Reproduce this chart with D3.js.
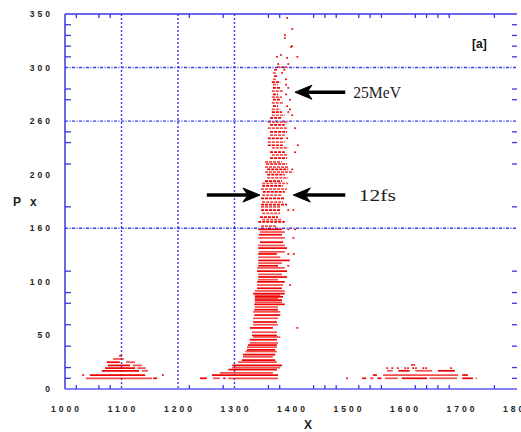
<!DOCTYPE html>
<html>
<head>
<meta charset="utf-8">
<script src="https://cdn.jsdelivr.net/npm/d3@7"></script>
<style>
  body { margin: 0; background: #fff; }
  svg { display: block; }
</style>
</head>
<body>
<svg id="chart" width="521" height="432"></svg>
<script>
// ---- data ----
// tick labels (text as printed) and the values they sit at
const xLabelValues = [1000, 1100, 1200, 1300, 1400, 1500, 1600, 1700, 1800];
const xLabels = ["1000", "1100", "1200", "1300", "1400", "1500", "1600", "1700", "1800"];
const yLabelValues = [0, 50, 100, 150, 200, 250, 300, 350];
const yLabels = ["0", "50", "100", "160", "200", "260", "300", "350"];
// small inward ticks
const xMinorTicks = [1020, 1060, 1080, 1220, 1280, 1360, 1380, 1440, 1460, 1480, 1520, 1540, 1560, 1620, 1640, 1660, 1680, 1760];
const yMinorTicks = [10, 20, 40, 60, 80, 90, 110, 170, 210, 230, 240, 270, 280, 310, 320, 330, 340];
// dotted grid lines
const xGrid = [1100, 1200, 1300];
const yGrid = [150, 250, 300];

// particle rows: [Px, x start, x end]
const spikeRows = [
  [10,1239,1251],[10,1262,1274],[10,1280,1284],[10,1289,1377],
  [13,1260,1377],[15,1274,1368],[18,1289,1375],[20,1296,1381],[22,1296,1384],[25,1306,1375],
  [27,1313,1372],[30,1315,1368],[32,1315,1372],[35,1319,1375],[36.5,1322,1372],[39,1322,1375],
  [41,1324,1375],[43,1327,1377],[46,1327,1375],[48.5,1333,1381],[50,1331,1375],[53,1331,1375],
  [57,1327,1368],[60,1333,1377],[62.5,1333,1375],[66,1333,1377],[69,1335,1381],[72,1333,1381],
  [74,1335,1377],[76.5,1336,1377],[79,1335,1389],[81,1336,1384],[83,1336,1384],[84.5,1336,1377],
  [86,1336,1386],[87.5,1336,1381],[89,1333,1389],[91.5,1336,1389],[94,1340,1384],[97,1340,1386],
  [100,1340,1389],[102,1342,1377],[104.5,1342,1393],[107,1342,1384],[110,1340,1393],[113,1340,1389],
  [115,1342,1377],[117.5,1342,1384],[120,1342,1398],[123,1342,1381],[126,1342,1375],[128,1343,1389],
  [131.5,1342,1393],[134,1342,1389],[137,1345,1386],[141,1342,1389],[144,1343,1384],[146.5,1345,1389],
  [149,1342,1384],[152,1347,1375],[156,1342,1389],[158,1349,1384],[160.5,1345,1377],[164,1349,1381],
  [167,1347,1382],[170,1347,1382],[172,1347,1393],[174.5,1349,1386],[178,1347,1389],[181,1349,1384],
  [184,1350,1389],[186.5,1347,1393],[189.5,1349,1386],[192,1349,1395],[194,1354,1384],[197,1358,1395],
  [200,1358,1389],[202.5,1354,1404],[205,1358,1395],[207,1354,1395],[210,1356,1393],[212,1354,1384],
  [215.5,1363,1393],[218.5,1366,1395],[221,1363,1389],[225,1366,1395],[227.5,1359,1386],[230.5,1359,1389],
  [234,1359,1386],[237,1363,1389],[240,1363,1393],[243.5,1359,1395],[246.5,1363,1389],[249,1359,1395],
  [253,1363,1384],[255.5,1366,1389],[258.5,1366,1384],[261,1366,1381],[264,1368,1377],[267,1366,1386],
  [270,1368,1381],[272.5,1366,1384],[275,1368,1377],[278,1366,1386],[281,1368,1381],[284,1368,1377],
  [286.5,1366,1381],[289,1368,1375],[292,1370,1377],[295,1368,1373],[298,1370,1375],[300.5,1375,1393]
];
const leftRows = [
  [31,1096,1101],[28,1085,1104],[25,1074,1097],[25,1108,1124],[22,1076,1115],[22,1120,1136],
  [19.5,1071,1124],[19.5,1128,1143],[17,1065,1131],[17,1136,1147],[13,1044,1142],[10,1037,1154],[10,1156,1163]
];
const tailRows = [
  [10,1526,1533],[10,1540,1546],[10,1553,1560],[10,1566,1589],[10,1596,1641],[10,1645,1694],
  [10,1703,1722],[10,1727,1729],[13,1545,1552],[13,1563,1696],[13,1703,1713],
  [17,1570,1580],[17,1590,1610],[17,1620,1650],[17,1660,1690]
];
// single particles: [x, Px]
const strayDots = [
  [1411,57],[1398,97],[1395,115],[1395,126],[1405,126],[1404,141],[1395,149],[1407,149],[1395,167],
  [1404,167],[1402,205],[1407,221],[1412,227.5],[1393,234],[1407,243.5],[1402,255.5],[1395,258.5],
  [1398,261],[1393,264],[1398,270],[1391,275],[1395,281],[1391,284],[1391,289],[1384,295],[1388,298],
  [1377,303.3],[1395,303.3],[1375,310],[1382,311.7],[1393,309],[1411,310],[1400,319.2],[1402,320.1],
  [1389,330.4],[1389,327.6],[1402,336],[1393,346.3],
  [1032,13],[1173,13],[1499,10],[1614,22.4],[1618,22.4],
  [1570,19.5],[1579,19.5],[1589,19.5],[1602,19.5],[1607,19.5],[1616,19.5],[1621,19.5],[1634,19.5],[1639,19.5],[1683,19.5]
];
// annotations
const arrowTips = [[1407, 277], [1404, 181], [1345, 181]];
const arrowTails = [1496, 1496, 1251];
const noteTexts = ["25MeV", "12fs"];
const notePos = [[1510, 277], [1520, 181]];

// ---- layout ----
const margin = { top: 14, right: 4, bottom: 43, left: 65 };
const width = 521 - margin.left - margin.right;
const height = 432 - margin.top - margin.bottom;
const axisColor = "#3838e0";
const gridColor = "#3a3af0";
const red = "#ee0000";

const svg = d3.select("#chart");
const g = svg.append("g").attr("transform", `translate(${margin.left}, ${margin.top})`);

const x = d3.scaleLinear().domain([1000, 1800]).range([0, width]);
const y = d3.scaleLinear().domain([0, 350]).range([height, 0]);

// grid
g.selectAll(".vgrid").data(xGrid).enter().append("line")
  .attr("x1", d => x(d)).attr("x2", d => x(d))
  .attr("y1", 0).attr("y2", height)
  .attr("stroke", gridColor).attr("stroke-width", 1.4)
  .attr("stroke-dasharray", "2,2");
g.selectAll(".hgrid").data(yGrid).enter().append("line")
  .attr("x1", 0).attr("x2", width)
  .attr("y1", d => y(d)).attr("y2", d => y(d))
  .attr("stroke", gridColor).attr("stroke-width", 1.4)
  .attr("stroke-dasharray", "3,1.5,1,1.5");

// particle rows
function drawRows(rows, dashAbove) {
  g.append("g").selectAll("line").data(rows).enter().append("line")
    .attr("x1", d => x(d[1])).attr("x2", d => x(d[2]))
    .attr("y1", d => y(d[0])).attr("y2", d => y(d[0]))
    .attr("stroke", red)
    .attr("stroke-width", 1.7)
    .attr("stroke-opacity", (d, i) => i % 2 ? 0.7 : 1)
    .attr("stroke-dasharray", d => d[0] > dashAbove ? "3,1" : null);
}
drawRows(spikeRows, 150);
drawRows(leftRows, 999);
drawRows(tailRows, 999);

g.append("g").selectAll("rect").data(strayDots).enter().append("rect")
  .attr("x", d => x(d[0]) - 0.8).attr("y", d => y(d[1]) - 0.8)
  .attr("width", 1.8).attr("height", 1.6)
  .attr("fill", red);

// axis frame (no right line)
g.append("line").attr("x1", 0).attr("x2", 0).attr("y1", 0).attr("y2", height)
  .attr("stroke", axisColor).attr("stroke-width", 1.5);
g.append("line").attr("x1", 0).attr("x2", width).attr("y1", height).attr("y2", height)
  .attr("stroke", "#5a5aee").attr("stroke-width", 1.6);
g.append("line").attr("x1", 0).attr("x2", width).attr("y1", 0).attr("y2", 0)
  .attr("stroke", axisColor).attr("stroke-width", 1.5);

// inward ticks
const tickG = g.append("g").attr("stroke", axisColor).attr("stroke-width", 1.3);
xMinorTicks.forEach(v => {
  tickG.append("line").attr("x1", x(v)).attr("x2", x(v)).attr("y1", height).attr("y2", height - 4);
  tickG.append("line").attr("x1", x(v)).attr("x2", x(v)).attr("y1", 0).attr("y2", 4);
});
yMinorTicks.forEach(v => {
  tickG.append("line").attr("x1", 0).attr("x2", 6).attr("y1", y(v)).attr("y2", y(v));
  tickG.append("line").attr("x1", width - 5).attr("x2", width).attr("y1", y(v)).attr("y2", y(v));
});

// tick labels
const labelFont = "'Liberation Sans', Arial, sans-serif";
g.selectAll(".xl").data(xLabelValues).enter().append("text")
  .attr("x", d => x(d) + 1.5)
  .attr("y", height + 23)
  .attr("text-anchor", "middle")
  .attr("font-family", labelFont).attr("font-size", "8.5px").attr("font-weight", "bold")
  .attr("letter-spacing", "3px").attr("fill", "#222")
  .text((d, i) => xLabels[i]);
g.selectAll(".yl").data(yLabelValues).enter().append("text")
  .attr("x", -12)
  .attr("y", d => y(d) + 3)
  .attr("text-anchor", "end")
  .attr("font-family", labelFont).attr("font-size", "8.5px").attr("font-weight", "bold")
  .attr("letter-spacing", "3px").attr("fill", "#222")
  .text((d, i) => yLabels[i]);

// axis titles
g.append("text")
  .attr("x", -52).attr("y", 192)
  .attr("font-family", labelFont).attr("font-size", "12px").attr("font-weight", "bold")
  .attr("letter-spacing", "3px").attr("fill", "#222")
  .text("P x");
g.append("text")
  .attr("x", x(1430)).attr("y", height + 40)
  .attr("text-anchor", "middle")
  .attr("font-family", labelFont).attr("font-size", "12px").attr("font-weight", "bold")
  .attr("fill", "#222")
  .text("X");
g.append("text")
  .attr("x", width - 45).attr("y", 34)
  .attr("font-family", labelFont).attr("font-size", "12px").attr("font-weight", "bold")
  .attr("fill", "#111")
  .text("[a]");

// arrows
arrowTips.forEach((tip, i) => {
  const tx = x(tip[0]), ty = y(tip[1]), tail = x(arrowTails[i]);
  const dir = tail > tx ? 1 : -1;
  g.append("line")
    .attr("x1", tail).attr("x2", tx + dir * 10)
    .attr("y1", ty).attr("y2", ty)
    .attr("stroke", "#000").attr("stroke-width", 3.5);
  g.append("path")
    .attr("d", `M${tx},${ty} L${tx + dir * 17},${ty - 7} L${tx + dir * 12},${ty} L${tx + dir * 17},${ty + 7} Z`)
    .attr("fill", "#000").attr("stroke", "#000").attr("stroke-width", 1);
});

// notes
g.selectAll(".note").data(notePos).enter().append("text")
  .attr("x", d => x(d[0]))
  .attr("y", d => y(d[1]) + 6)
  .attr("font-family", "'Liberation Serif', 'DejaVu Serif', serif")
  .attr("font-size", "17px")
  .attr("fill", "#222")
  .attr("textLength", (d, i) => i === 0 ? 48 : 37)
  .attr("lengthAdjust", "spacingAndGlyphs")
  .text((d, i) => noteTexts[i]);
</script>
</body>
</html>
